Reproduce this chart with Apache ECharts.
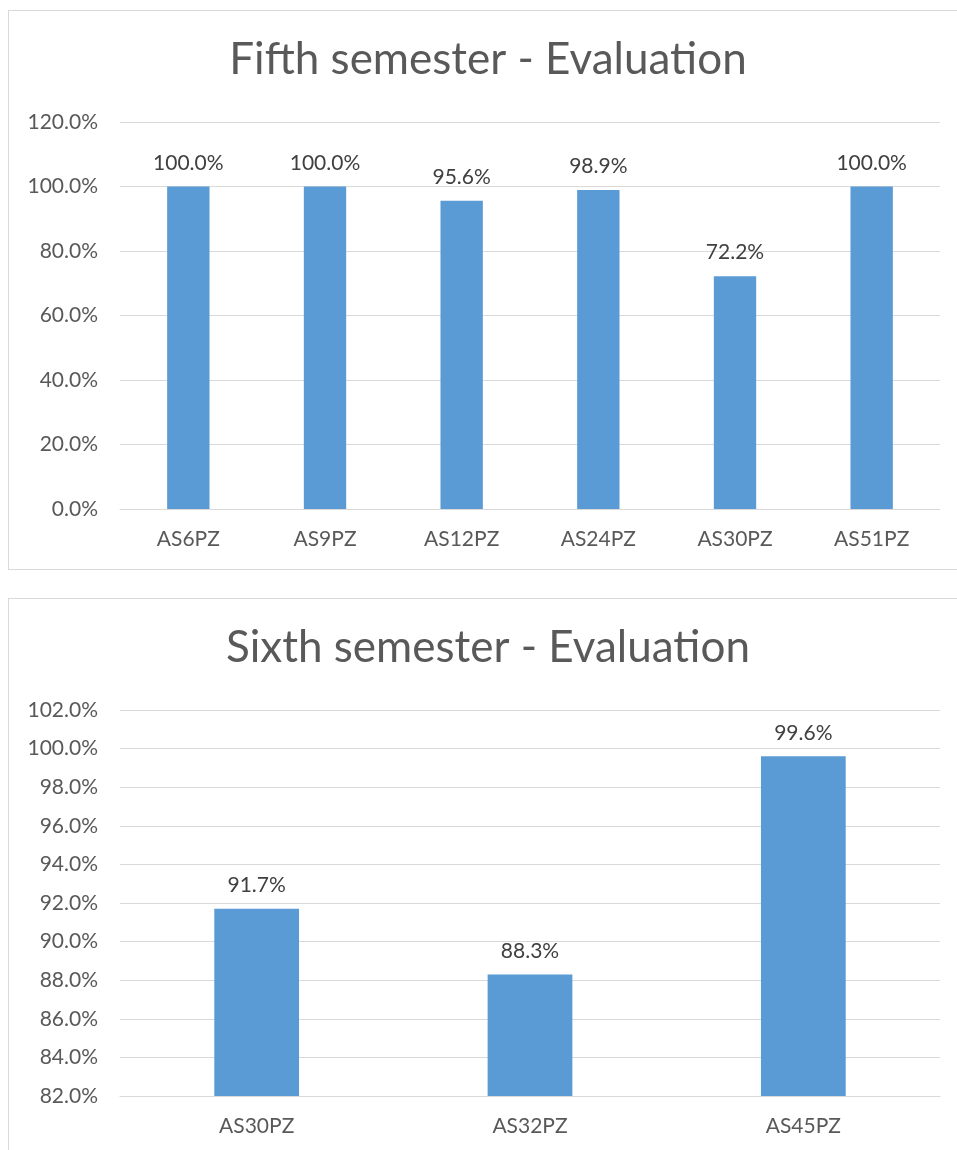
<!DOCTYPE html>
<html>
<head>
<meta charset="utf-8">
<script src="https://cdn.jsdelivr.net/npm/echarts@6/dist/echarts.min.js"></script>
<style>
  body { margin: 0; background: #fff; overflow: hidden; }
  .my-chart {
    position: absolute;
    left: 8px;
    width: 960px;
    height: 560px;
    border: 1px solid #d9d9d9;
    box-sizing: border-box;
    background: #fff;
  }
  #fifth { top: 10px; }
  #sixth { top: 598px; }
</style>
</head>
<body>
<div id="fifth" class="my-chart"></div>
<div id="sixth" class="my-chart"></div>
<script>
// fifth semester
const fifthCategories = ['AS6PZ', 'AS9PZ', 'AS12PZ', 'AS24PZ', 'AS30PZ', 'AS51PZ']
const fifthValues = [100.0, 100.0, 95.6, 98.9, 72.2, 100.0]
const fifthAxis = { min: 0, max: 120, interval: 20 }

// sixth semester
const sixthCategories = ['AS30PZ', 'AS32PZ', 'AS45PZ']
const sixthValues = [91.7, 88.3, 99.6]
const sixthAxis = { min: 82, max: 102, interval: 2 }

const font = 'Lato, "Open Sans", sans-serif'

function makeOptions(title, categories, values, axis) {
  return {
    animation: false,
    title: {
      text: title,
      left: 'center',
      top: 22,
      textStyle: {
        fontFamily: font,
        fontSize: 44,
        fontWeight: 'normal',
        color: '#595959'
      }
    },
    grid: {
      left: 111,
      top: 111,
      width: 820,
      height: 387
    },
    xAxis: {
      type: 'category',
      data: categories,
      axisTick: { show: false },
      axisLine: { lineStyle: { color: '#d9d9d9', width: 1 } },
      axisLabel: {
        color: '#595959',
        fontFamily: font,
        fontSize: 21,
        margin: 20
      }
    },
    yAxis: {
      type: 'value',
      min: axis.min,
      max: axis.max,
      interval: axis.interval,
      axisLine: { show: false },
      axisTick: { show: false },
      splitLine: { lineStyle: { color: '#d9d9d9', width: 1 } },
      axisLabel: {
        color: '#595959',
        fontFamily: font,
        fontSize: 21,
        margin: 22,
        formatter: v => v.toFixed(1) + '%'
      }
    },
    series: [
      {
        type: 'bar',
        data: values,
        barWidth: '31%',
        itemStyle: { color: '#5b9bd5' },
        label: {
          show: true,
          position: 'top',
          distance: 13,
          color: '#404040',
          fontFamily: font,
          fontSize: 21,
          formatter: p => p.value.toFixed(1) + '%'
        }
      }
    ]
  }
}

const fifthChart = echarts.init(document.getElementById('fifth'))
fifthChart.setOption(makeOptions('Fifth semester - Evaluation', fifthCategories, fifthValues, fifthAxis))

const sixthChart = echarts.init(document.getElementById('sixth'))
const sixthOptions = makeOptions('Sixth semester - Evaluation', sixthCategories, sixthValues, sixthAxis)
sixthOptions.grid.height = 386
sixthChart.setOption(sixthOptions)
</script>
</body>
</html>
